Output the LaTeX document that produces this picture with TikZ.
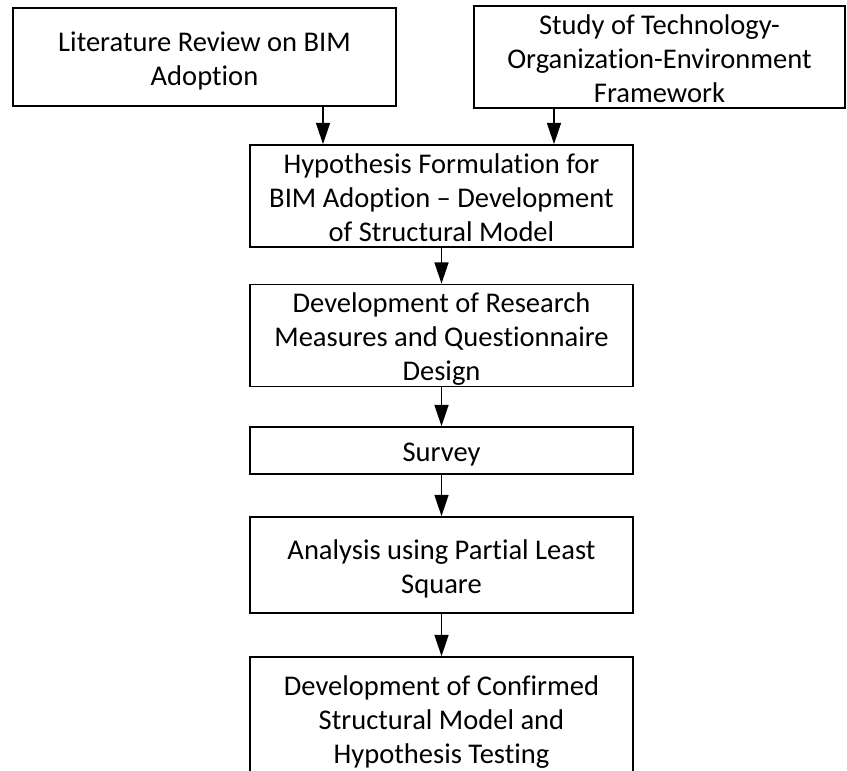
\documentclass[tikz,border=0pt]{standalone}
\usepackage{fontspec}
\setmainfont{Carlito}[Ligatures=CommonOff]
\usetikzlibrary{arrows.meta,calc}
\newcommand{\stt}{\rule[-4.3pt]{0pt}{25.5pt}}
\begin{document}
\begin{tikzpicture}[x=0.75pt,y=-0.75pt,
  box/.style={draw=black,line width=1.25pt,rectangle,inner sep=0pt,align=center,
    font=\fontsize{21.4}{25.5}\selectfont},
  arr/.style={line width=1.25pt,-{Triangle[length=16pt,width=10.5pt]}}]
\useasboundingbox (0,0) rectangle (847,771);
\node[box,minimum width=383*0.75pt,minimum height=98*0.75pt] (b1) at (204.5,57) {\stt Literature Review on BIM\\\stt Adoption};
\node[box,minimum width=371*0.75pt,minimum height=98*0.75pt] (b2) at (659.5,57) {\stt Study of Technology-\\\stt Organization-Environment\\\stt Framework};
\node[box,minimum width=383*0.75pt,minimum height=98*0.75pt] (b3) at (441.5,196) {\stt Hypothesis Formulation for\\\stt BIM Adoption – Development\\\stt of Structural Model};
\node[box,minimum width=383*0.75pt,minimum height=97*0.75pt] (b4) at (441.5,335.5) {\stt Development of Research\\\stt Measures and Questionnaire\\\stt Design};
\node[box,minimum width=383*0.75pt,minimum height=47*0.75pt] (b5) at (441.5,450.5) {\stt Survey};
\node[box,minimum width=383*0.75pt,minimum height=96*0.75pt] (b6) at (441.5,565) {\stt Analysis using Partial Least\\\stt Square};
\node[box,minimum width=383*0.75pt,minimum height=122*0.75pt] (b7) at (441.5,718) {\stt Development of Confirmed\\\stt Structural Model and\\\stt Hypothesis Testing};
\coordinate (xa) at (323,0);
\coordinate (xb) at (554,0);
\draw[arr] (b1.south -| xa) -- (b3.north -| xa);
\draw[arr] (b2.south -| xb) -- (b3.north -| xb);
\draw[arr] (b3.south) -- (b4.north);
\draw[arr] (b4.south) -- (b5.north);
\draw[arr] (b5.south) -- (b6.north);
\draw[arr] (b6.south) -- (b7.north);
\end{tikzpicture}
\end{document}
